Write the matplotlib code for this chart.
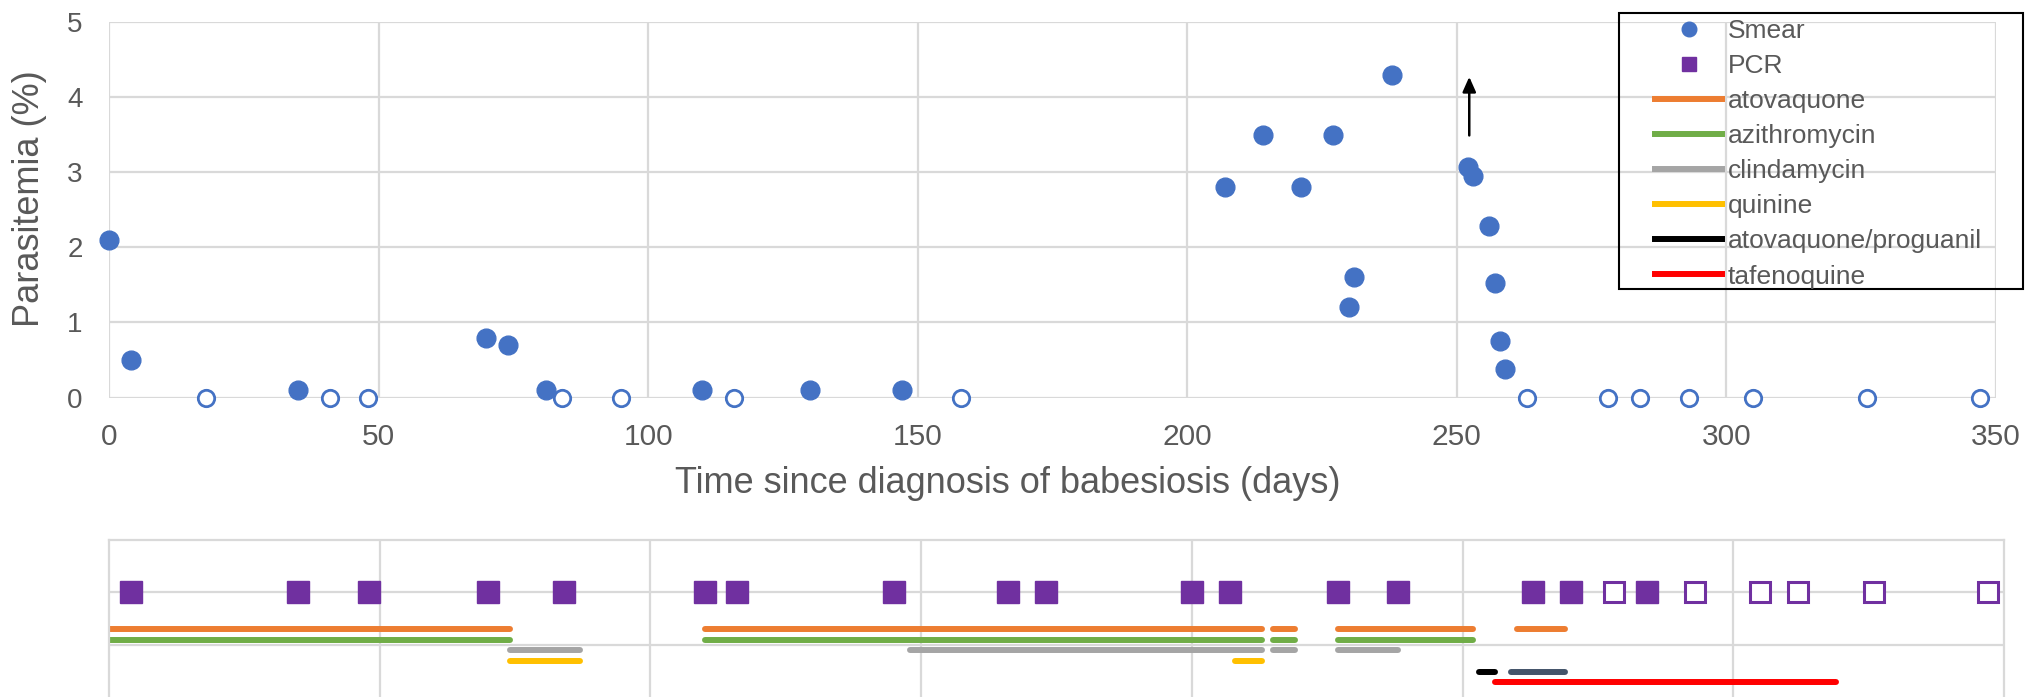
import matplotlib
matplotlib.use("Agg")
import matplotlib.pyplot as plt
from matplotlib.lines import Line2D
from matplotlib.patches import Rectangle

plt.rcParams["font.family"] = ["Liberation Sans", "DejaVu Sans"]

# Blood smear parasitemia (%) by day since diagnosis
smear_pos_days = [0, 4, 35, 70, 74, 81, 110, 130, 147, 207, 214, 221, 227, 230, 231,
                  238, 252, 253, 256, 257, 258, 259]
smear_pos_vals = [2.1, 0.5, 0.1, 0.8, 0.7, 0.1, 0.1, 0.1, 0.1, 2.8, 3.5, 2.8, 3.5, 1.2, 1.6,
                  4.3, 3.07, 2.95, 2.28, 1.53, 0.75, 0.38]
smear_neg_days = [18, 41, 48, 84, 95, 116, 158, 263, 278, 284, 293, 305, 326, 347]

# PCR results
pcr_pos_days = [4, 35, 48, 70, 84, 110, 116, 145, 166, 173, 200, 207, 227, 238, 263, 270, 284]
pcr_neg_days = [278, 293, 305, 312, 326, 347]

# Treatment courses: (start day, end day)
atovaquone = [(0, 74), (110, 213), (215, 219), (227, 252), (260, 269)]
azithromycin = [(0, 74), (110, 213), (215, 219), (227, 252)]
clindamycin = [(74, 87), (148, 213), (215, 219), (227, 238)]
quinine = [(74, 87), (208, 213)]
atovaquone_proguanil = [(253, 256)]
atovaquone_proguanil_2 = [(259, 269)]
tafenoquine = [(256, 319)]

arrow_day = 252.3
arrow_from, arrow_to = 3.49, 4.27

x_ticks = [0, 50, 100, 150, 200, 250, 300, 350]
y_ticks = [0, 1, 2, 3, 4, 5]

BLUE = "#4472C4"
PURPLE = "#7030A0"
GRID = "#D9D9D9"
TXT = "#595959"

W, H = 2031, 697
fig = plt.figure(figsize=(W / 100, H / 100), dpi=100)


def fx(px):
    return px / W


def fy(py):
    return 1 - py / H


# ---- upper panel: smear parasitemia ----
ax = fig.add_axes([fx(109), fy(397.6), (1996 - 109) / W, (397.6 - 22) / H])
ax.set_xlim(0, 350)
ax.set_ylim(0, 5)
ax.set_xticks(x_ticks)
ax.set_yticks(y_ticks)
ax.grid(True, color=GRID, linewidth=1.6)
ax.set_axisbelow(True)
for s in ax.spines.values():
    s.set_visible(False)
ax.tick_params(axis="x", length=0, labelsize=21.5, labelcolor=TXT, pad=18.5)
ax.tick_params(axis="y", length=0, labelsize=20, labelcolor=TXT, pad=19)

ax.plot(smear_pos_days, smear_pos_vals, "o", color=BLUE, markersize=13.5,
        linestyle="none", clip_on=False, zorder=3)
ax.plot(smear_neg_days, [0] * len(smear_neg_days), "o", markerfacecolor="white",
        markeredgecolor=BLUE, markeredgewidth=2.0, markersize=11.8,
        linestyle="none", clip_on=False, zorder=3)

ax.annotate("", xy=(arrow_day, arrow_to), xytext=(arrow_day, arrow_from),
            arrowprops=dict(arrowstyle="-|>,head_length=0.9,head_width=0.4",
                            color="black", lw=1.8, shrinkA=0, shrinkB=0))

fig.text(fx(30), fy(199), "Parasitemia (%)", rotation=90, ha="center", va="center",
         fontsize=26, color=TXT)
fig.text(fx(1008), fy(466), "Time since diagnosis of babesiosis (days)",
         ha="center", va="top", fontsize=26, color=TXT)

# legend
handles = [
    Line2D([], [], marker="o", color=BLUE, linestyle="none", markersize=10.5),
    Line2D([], [], marker="s", color=PURPLE, linestyle="none", markersize=10.5),
    Line2D([], [], color="#ED7D31", lw=4.3),
    Line2D([], [], color="#70AD47", lw=4.3),
    Line2D([], [], color="#A5A5A5", lw=4.3),
    Line2D([], [], color="#FFC000", lw=4.3),
    Line2D([], [], color="black", lw=4.3),
    Line2D([], [], color="#FF0000", lw=4.3),
]
labels = ["Smear", "PCR", "atovaquone", "azithromycin", "clindamycin", "quinine",
          "atovaquone/proguanil", "tafenoquine"]
leg = fig.legend(handles, labels, loc="upper left",
                 bbox_to_anchor=(fx(1655), fy(19)), fontsize=19, frameon=False,
                 handlelength=2.55, handletextpad=0.2, labelspacing=0.42,
                 borderpad=0, borderaxespad=0)
for t in leg.get_texts():
    t.set_color(TXT)
fig.patches.append(Rectangle((fx(1619), fy(289)), (2023 - 1619) / W, (289 - 12.7) / H,
                             transform=fig.transFigure, fill=False, edgecolor="black",
                             linewidth=1.5, zorder=5))

# ---- lower panel: PCR and treatment timeline ----
ax2 = fig.add_axes([fx(109), 0, (2004 - 109) / W, 157 / H])
ax2.set_xlim(0, 350)
ax2.set_ylim(0, 3)
ax2.set_xticks([50, 100, 150, 200, 250, 300])
ax2.set_yticks([1, 2])
ax2.grid(True, color=GRID, linewidth=1.6)
ax2.set_axisbelow(True)
ax2.tick_params(length=0, labelbottom=False, labelleft=False)
for k, s in ax2.spines.items():
    s.set_color(GRID)
    s.set_linewidth(1.6)
ax2.spines["bottom"].set_visible(False)

ax2.plot(pcr_pos_days, [2] * len(pcr_pos_days), "s", color=PURPLE, markersize=16,
         linestyle="none", clip_on=False, zorder=3)
ax2.plot(pcr_neg_days, [2] * len(pcr_neg_days), "s", markerfacecolor="white",
         markeredgecolor=PURPLE, markeredgewidth=2.2, markersize=14.5,
         linestyle="none", clip_on=False, zorder=3)

courses = [
    (atovaquone, 1.29, "#ED7D31"),
    (azithromycin, 1.08, "#70AD47"),
    (clindamycin, 0.89, "#A5A5A5"),
    (quinine, 0.69, "#FFC000"),
    (atovaquone_proguanil, 0.48, "black"),
    (atovaquone_proguanil_2, 0.48, "#44546A"),
    (tafenoquine, 0.29, "#FF0000"),
]
for spans, yv, col in courses:
    for a, b in spans:
        ax2.plot([a, b], [yv, yv], color=col, lw=4.3, solid_capstyle="round", zorder=2)

fig.savefig("out.png", dpi=100)
